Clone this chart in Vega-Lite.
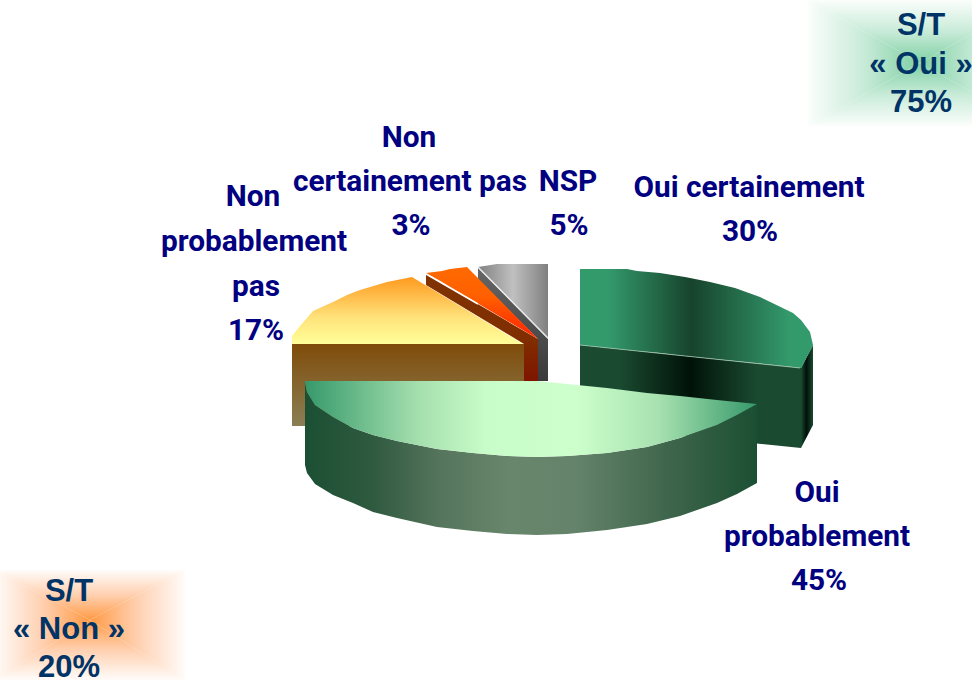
{"$schema":"https://vega.github.io/schema/vega-lite/v6.json","width":972,"height":680,"autosize":{"type":"none"},"padding":0,"background":"white","view":{"stroke":null},
"data":{"values":[
{"p":"gt","x":808,"y":0,"y2":0},{"p":"gt","x":920,"y":0,"y2":63},{"p":"gt","x":1032,"y":0,"y2":0},
{"p":"gb","x":808,"y":126,"y2":126},{"p":"gb","x":920,"y":63,"y2":126},{"p":"gb","x":1032,"y":126,"y2":126},
{"p":"gl","x":808,"y":0,"y2":126},{"p":"gl","x":920,"y":63,"y2":63},
{"p":"gr","x":920,"y":63,"y2":63},{"p":"gr","x":1032,"y":0,"y2":126},
{"p":"ot","x":-5,"y":570,"y2":570},{"p":"ot","x":90,"y":570,"y2":620},{"p":"ot","x":185,"y":570,"y2":570},
{"p":"ob","x":-5,"y":680,"y2":680},{"p":"ob","x":90,"y":620,"y2":680},{"p":"ob","x":185,"y":680,"y2":680},
{"p":"ol","x":-5,"y":570,"y2":680},{"p":"ol","x":90,"y":620,"y2":620},
{"p":"or","x":90,"y":620,"y2":620},{"p":"or","x":185,"y":570,"y2":680},
{"p":"nd","x":478,"y":268,"y2":280},{"p":"nd","x":538,"y":329,"y2":339},{"p":"nd","x":538.01,"y":329,"y2":381},{"p":"nd","x":548,"y":339,"y2":381},
{"p":"n","x":478,"y":267,"y2":267},{"p":"n","x":497,"y":264,"y2":286},{"p":"n","x":548,"y":264,"y2":338},
{"p":"rd","x":426,"y":274,"y2":285},{"p":"rd","x":524,"y":331,"y2":344},{"p":"rd","x":524.01,"y":331,"y2":381},{"p":"rd","x":538,"y":339,"y2":381},
{"p":"r","x":426,"y":273,"y2":273},{"p":"r","x":442,"y":271,"y2":282},{"p":"r","x":450,"y":269,"y2":287},{"p":"r","x":467,"y":267,"y2":297},{"p":"r","x":538,"y":339,"y2":339},
{"p":"yf","x":292,"y":344,"y2":426},{"p":"yf","x":524,"y":344,"y2":426},
{"p":"y","x":292,"y":336,"y2":344},{"p":"y","x":300,"y":326,"y2":344},{"p":"y","x":313,"y":311,"y2":344},{"p":"y","x":333,"y":302,"y2":344},{"p":"y","x":347,"y":295,"y2":344},{"p":"y","x":360,"y":290,"y2":344},{"p":"y","x":387,"y":282,"y2":344},{"p":"y","x":412,"y":277,"y2":344},{"p":"y","x":523,"y":344,"y2":344},
{"p":"c2","x":580,"y":345,"y2":426},{"p":"c2","x":801,"y":368,"y2":448},
{"p":"c3","x":801,"y":368,"y2":448},{"p":"c3","x":813,"y":345,"y2":425},
{"p":"c1","x":580,"y":269,"y2":345},{"p":"c1","x":627,"y":269,"y2":350},{"p":"c1","x":637,"y":271,"y2":351},{"p":"c1","x":660,"y":273,"y2":353},{"p":"c1","x":685,"y":277,"y2":356},{"p":"c1","x":710,"y":282,"y2":358.5},{"p":"c1","x":735,"y":288,"y2":361},{"p":"c1","x":760,"y":297,"y2":363.6},{"p":"c1","x":793,"y":313,"y2":367},{"p":"c1","x":801,"y":320,"y2":368},{"p":"c1","x":810,"y":332,"y2":351},{"p":"c1","x":813,"y":345,"y2":345},
{"p":"p2","x":305,"y":382,"y2":465},{"p":"p2","x":307,"y":392,"y2":473},{"p":"p2","x":315,"y":405,"y2":484},{"p":"p2","x":333,"y":417,"y2":495},{"p":"p2","x":353,"y":428,"y2":503},{"p":"p2","x":373,"y":435,"y2":512},{"p":"p2","x":397,"y":441,"y2":518},{"p":"p2","x":437,"y":449,"y2":527},{"p":"p2","x":473,"y":453,"y2":531},{"p":"p2","x":507,"y":456,"y2":534},{"p":"p2","x":537,"y":457,"y2":535},{"p":"p2","x":567,"y":456,"y2":534},{"p":"p2","x":607,"y":453,"y2":530},{"p":"p2","x":647,"y":447,"y2":524},{"p":"p2","x":680,"y":438,"y2":516},{"p":"p2","x":717,"y":425,"y2":503},{"p":"p2","x":737,"y":415,"y2":494},{"p":"p2","x":757,"y":404,"y2":483},
{"p":"p1","x":305,"y":381,"y2":382},{"p":"p1","x":307,"y":381,"y2":392},{"p":"p1","x":315,"y":381,"y2":405},{"p":"p1","x":333,"y":381,"y2":417},{"p":"p1","x":353,"y":381,"y2":428},{"p":"p1","x":373,"y":381,"y2":435},{"p":"p1","x":397,"y":381,"y2":441},{"p":"p1","x":437,"y":381,"y2":449},{"p":"p1","x":473,"y":381,"y2":453},{"p":"p1","x":507,"y":381,"y2":456},{"p":"p1","x":537,"y":381,"y2":457},{"p":"p1","x":567,"y":384,"y2":456},{"p":"p1","x":607,"y":388,"y2":453},{"p":"p1","x":647,"y":393,"y2":447},{"p":"p1","x":680,"y":396,"y2":438},{"p":"p1","x":717,"y":400,"y2":425},{"p":"p1","x":737,"y":402,"y2":415},{"p":"p1","x":757,"y":404,"y2":404},
{"p":"lw1","x":426,"y":274},{"p":"lw1","x":478,"y":304},
{"p":"lw2","x":478,"y":267},{"p":"lw2","x":548,"y":338},
{"p":"lc","x":580,"y":345},{"p":"lc","x":800,"y":368},
{"p":"tn","x":409,"y":137,"label":"Non"},{"p":"tn","x":410,"y":181,"label":"certainement pas"},{"p":"tn","x":411,"y":225,"label":"3%"},
{"p":"tn","x":568,"y":181,"label":"NSP"},{"p":"tn","x":569,"y":225,"label":"5%"},
{"p":"tn","x":749,"y":187,"label":"Oui certainement"},{"p":"tn","x":750,"y":231,"label":"30%"},
{"p":"tn","x":253,"y":196,"label":"Non"},{"p":"tn","x":254,"y":241,"label":"probablement"},{"p":"tn","x":256,"y":286,"label":"pas"},{"p":"tn","x":256,"y":330,"label":"17%"},
{"p":"tn","x":817,"y":492,"label":"Oui"},{"p":"tn","x":817,"y":536,"label":"probablement"},{"p":"tn","x":819,"y":580,"label":"45%"},
{"p":"ts","x":921,"y":25,"label":"S/T"},{"p":"ts","x":921,"y":64,"label":"« Oui »"},{"p":"ts","x":921,"y":102,"label":"75%"},
{"p":"ts","x":69,"y":591,"label":"S/T"},{"p":"ts","x":69,"y":629,"label":"« Non »"},{"p":"ts","x":69,"y":667,"label":"20%"}
]},
"encoding":{
"x":{"field":"x","type":"quantitative","scale":{"domain":[0,972],"nice":false,"zero":false},"axis":null},
"y":{"field":"y","type":"quantitative","scale":{"domain":[680,0],"nice":false,"zero":false},"axis":null}
},
"layer":[
{"transform":[{"filter":"datum.p==='gt'"}],"encoding":{"y2":{"field":"y2"}},"mark":{"type":"area","clip":true,"fill":{"gradient":"linear","x1":0,"y1":0,"x2":0,"y2":1,"stops":[{"offset":0,"color":"#fbfefc"},{"offset":0.5,"color":"#c8ebd8"},{"offset":1,"color":"#7fd0a5"}]}}},
{"transform":[{"filter":"datum.p==='gb'"}],"encoding":{"y2":{"field":"y2"}},"mark":{"type":"area","clip":true,"fill":{"gradient":"linear","x1":0,"y1":1,"x2":0,"y2":0,"stops":[{"offset":0,"color":"#fbfefc"},{"offset":0.5,"color":"#c8ebd8"},{"offset":1,"color":"#7fd0a5"}]}}},
{"transform":[{"filter":"datum.p==='gl'"}],"encoding":{"y2":{"field":"y2"}},"mark":{"type":"area","clip":true,"fill":{"gradient":"linear","x1":0,"y1":0,"x2":1,"y2":0,"stops":[{"offset":0,"color":"#fbfefc"},{"offset":0.5,"color":"#c8ebd8"},{"offset":1,"color":"#7fd0a5"}]}}},
{"transform":[{"filter":"datum.p==='gr'"}],"encoding":{"y2":{"field":"y2"}},"mark":{"type":"area","clip":true,"fill":{"gradient":"linear","x1":1,"y1":0,"x2":0,"y2":0,"stops":[{"offset":0,"color":"#fbfefc"},{"offset":0.5,"color":"#c8ebd8"},{"offset":1,"color":"#7fd0a5"}]}}},
{"transform":[{"filter":"datum.p==='ot'"}],"encoding":{"y2":{"field":"y2"}},"mark":{"type":"area","clip":true,"fill":{"gradient":"linear","x1":0,"y1":0,"x2":0,"y2":1,"stops":[{"offset":0,"color":"#fffcfa"},{"offset":0.5,"color":"#ffd0b0"},{"offset":1,"color":"#ff9a45"}]}}},
{"transform":[{"filter":"datum.p==='ob'"}],"encoding":{"y2":{"field":"y2"}},"mark":{"type":"area","clip":true,"fill":{"gradient":"linear","x1":0,"y1":1,"x2":0,"y2":0,"stops":[{"offset":0,"color":"#fffcfa"},{"offset":0.5,"color":"#ffd0b0"},{"offset":1,"color":"#ff9a45"}]}}},
{"transform":[{"filter":"datum.p==='ol'"}],"encoding":{"y2":{"field":"y2"}},"mark":{"type":"area","clip":true,"fill":{"gradient":"linear","x1":0,"y1":0,"x2":1,"y2":0,"stops":[{"offset":0,"color":"#fffcfa"},{"offset":0.5,"color":"#ffd0b0"},{"offset":1,"color":"#ff9a45"}]}}},
{"transform":[{"filter":"datum.p==='or'"}],"encoding":{"y2":{"field":"y2"}},"mark":{"type":"area","clip":true,"fill":{"gradient":"linear","x1":1,"y1":0,"x2":0,"y2":0,"stops":[{"offset":0,"color":"#fffcfa"},{"offset":0.5,"color":"#ffd0b0"},{"offset":1,"color":"#ff9a45"}]}}},
{"transform":[{"filter":"datum.p==='nd'"}],"encoding":{"y2":{"field":"y2"}},"mark":{"type":"area","fill":{"gradient":"linear","x1":0,"y1":0,"x2":0,"y2":1,"stops":[{"offset":0,"color":"#666666"},{"offset":1,"color":"#3a3a3a"}]}}},
{"transform":[{"filter":"datum.p==='n'"}],"encoding":{"y2":{"field":"y2"}},"mark":{"type":"area","fill":{"gradient":"linear","x1":0,"y1":0,"x2":1,"y2":0,"stops":[{"offset":0,"color":"#808080"},{"offset":0.5,"color":"#c0c0c0"},{"offset":1,"color":"#808080"}]}}},
{"transform":[{"filter":"datum.p==='rd'"}],"encoding":{"y2":{"field":"y2"}},"mark":{"type":"area","fill":{"gradient":"linear","x1":0,"y1":0,"x2":0,"y2":1,"stops":[{"offset":0,"color":"#803300"},{"offset":0.6,"color":"#802e00"},{"offset":1,"color":"#7f1500"}]}}},
{"transform":[{"filter":"datum.p==='r'"}],"encoding":{"y2":{"field":"y2"}},"mark":{"type":"area","fill":{"gradient":"linear","x1":0,"y1":0,"x2":0,"y2":1,"stops":[{"offset":0,"color":"#ff6a00"},{"offset":0.4,"color":"#ff6000"},{"offset":1,"color":"#ff2200"}]}}},
{"transform":[{"filter":"datum.p==='yf'"}],"encoding":{"y2":{"field":"y2"}},"mark":{"type":"area","fill":{"gradient":"linear","x1":0,"y1":0,"x2":0,"y2":1,"stops":[{"offset":0,"color":"#7f4c0a"},{"offset":1,"color":"#8a7f55"}]}}},
{"transform":[{"filter":"datum.p==='y'"}],"encoding":{"y2":{"field":"y2"}},"mark":{"type":"area","fill":{"gradient":"linear","x1":0,"y1":0,"x2":0,"y2":1,"stops":[{"offset":0,"color":"#ff9a1f"},{"offset":0.6,"color":"#ffe27a"},{"offset":1,"color":"#ffff99"}]}}},
{"transform":[{"filter":"datum.p==='c2'"}],"encoding":{"y2":{"field":"y2"}},"mark":{"type":"area","fill":{"gradient":"linear","x1":0,"y1":0,"x2":1,"y2":0,"stops":[{"offset":0,"color":"#1a4a30"},{"offset":0.18,"color":"#1a4a30"},{"offset":0.5,"color":"#001208"},{"offset":0.8,"color":"#1a4a30"},{"offset":1,"color":"#1a4a30"}]}}},
{"transform":[{"filter":"datum.p==='c3'"}],"encoding":{"y2":{"field":"y2"}},"mark":{"type":"area","fill":{"gradient":"linear","x1":0,"y1":0,"x2":1,"y2":0,"stops":[{"offset":0,"color":"#1a4a30"},{"offset":0.45,"color":"#00100a"},{"offset":1,"color":"#1a4a30"}]}}},
{"transform":[{"filter":"datum.p==='c1'"}],"encoding":{"y2":{"field":"y2"}},"mark":{"type":"area","fill":{"gradient":"linear","x1":0,"y1":0,"x2":1,"y2":0,"stops":[{"offset":0,"color":"#339a6c"},{"offset":0.12,"color":"#339a6c"},{"offset":0.48,"color":"#17432c"},{"offset":0.9,"color":"#339a6c"},{"offset":1,"color":"#339a6c"}]}}},
{"transform":[{"filter":"datum.p==='p2'"}],"encoding":{"y2":{"field":"y2"}},"mark":{"type":"area","fill":{"gradient":"linear","x1":0,"y1":0,"x2":1,"y2":0,"stops":[{"offset":0,"color":"#1b4f33"},{"offset":0.15,"color":"#2f5a40"},{"offset":0.3,"color":"#55755c"},{"offset":0.45,"color":"#68866b"},{"offset":0.6,"color":"#64836a"},{"offset":0.8,"color":"#3f664c"},{"offset":1,"color":"#1b4f33"}]}}},
{"transform":[{"filter":"datum.p==='p1'"}],"encoding":{"y2":{"field":"y2"}},"mark":{"type":"area","fill":{"gradient":"linear","x1":0,"y1":0,"x2":1,"y2":0,"stops":[{"offset":0,"color":"#36996b"},{"offset":0.25,"color":"#a5dfae"},{"offset":0.4,"color":"#c8fcc8"},{"offset":0.6,"color":"#ccffcc"},{"offset":0.78,"color":"#a8e2b0"},{"offset":1,"color":"#36996b"}]}}},
{"transform":[{"filter":"datum.p==='lw1'"}],"mark":{"type":"line","color":"white","strokeWidth":1.5}},
{"transform":[{"filter":"datum.p==='lw2'"}],"mark":{"type":"line","color":"#e8e8e8","strokeWidth":1.2}},
{"transform":[{"filter":"datum.p==='lc'"}],"mark":{"type":"line","color":"#9fc4ae","strokeWidth":0.8}},
{"transform":[{"filter":"datum.p==='tn'"}],"encoding":{"text":{"field":"label"}},"mark":{"type":"text","font":"Roboto","fontWeight":"bold","fontSize":29.8,"color":"#000080","align":"center","baseline":"middle","dy":1}},
{"transform":[{"filter":"datum.p==='ts'"}],"encoding":{"text":{"field":"label"}},"mark":{"type":"text","font":"Liberation Sans","fontWeight":"bold","fontSize":31,"color":"#003366","align":"center","baseline":"middle","dy":1}}
]}
